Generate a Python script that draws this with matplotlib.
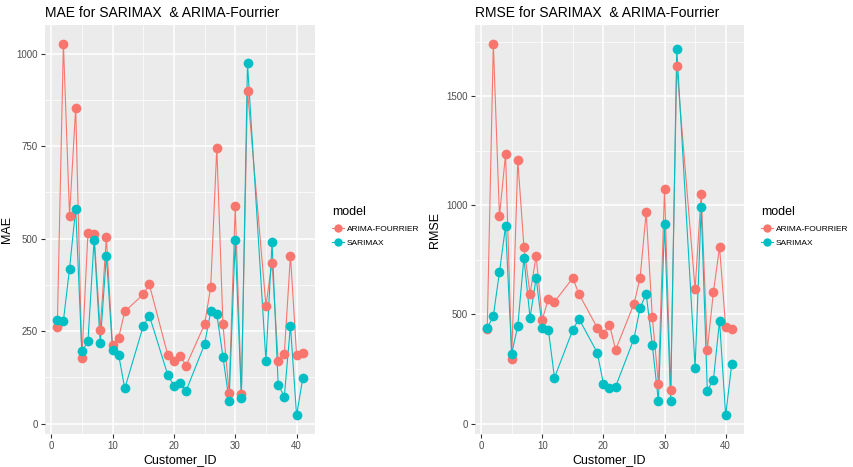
import matplotlib
matplotlib.use('Agg')
import matplotlib.pyplot as plt
from matplotlib.lines import Line2D

plt.rcParams['font.family'] = ['Liberation Sans', 'DejaVu Sans']

# données
customer_id = [1, 2, 3, 4, 5, 6, 7, 8, 9, 10, 11, 12, 15, 16, 19, 20, 21, 22,
               25, 26, 27, 28, 29, 30, 31, 32, 35, 36, 37, 38, 39, 40, 41]

mae_arima = [260, 1027, 562, 854, 176, 516, 511, 254, 503, 213, 232, 303, 349, 376,
             186, 168, 184, 157, 268, 368, 746, 268, 84, 587, 81, 900,
             319, 435, 168, 189, 454, 186, 192]
mae_sarimax = [281, 278, 419, 581, 195, 222, 497, 218, 454, 200, 186, 95, 263, 292,
               132, 103, 109, 89, 214, 303, 295, 181, 62, 495, 70, 973,
               170, 490, 105, 73, 265, 22, 122]

rmse_arima = [434, 1742, 951, 1235, 297, 1207, 810, 594, 768, 476, 571, 558, 667, 594,
              439, 412, 453, 338, 549, 667, 969, 489, 183, 1075, 155, 1637,
              617, 1052, 338, 604, 809, 443, 434]
rmse_sarimax = [436, 494, 694, 905, 320, 448, 759, 485, 667, 439, 430, 210, 430, 480,
                325, 183, 165, 169, 389, 530, 594, 361, 101, 914, 101, 1719,
                256, 992, 151, 201, 471, 37, 274]

models = ['ARIMA-FOURRIER', 'SARIMAX']
couleurs = ['#F8766D', '#00BFC4']

W, H = 854, 467
fig = plt.figure(figsize=(W / 100, H / 100), dpi=100)

def panneau(x0, x1, ylo, yhi, yarima, ysarimax, titre, ylab, yticks, yminor, legx, labx):
    ax = fig.add_axes([x0 / W, 1 - 434 / H, (x1 - x0) / W, (434 - 25) / H])
    ax.set_facecolor('#EBEBEB')
    for s in ax.spines.values():
        s.set_visible(False)
    ax.set_xlim(-1, 43)
    ax.set_ylim(ylo, yhi)
    ax.set_xticks([0, 10, 20, 30, 40])
    ax.set_xticks([5, 15, 25, 35], minor=True)
    ax.set_yticks(yticks)
    ax.set_yticks(yminor, minor=True)
    ax.grid(which='major', color='white', lw=1.1)
    ax.grid(which='minor', color='white', lw=0.5)
    ax.set_axisbelow(True)
    ax.tick_params(which='major', length=3, color='#333333', labelsize=7, labelcolor='#4D4D4D', pad=2)
    ax.tick_params(which='minor', length=0)
    for ys, c in zip([yarima, ysarimax], couleurs):
        ax.plot(customer_id, ys, color=c, lw=0.8, zorder=2)
    for ys, c in zip([yarima, ysarimax], couleurs):
        ax.plot(customer_id, ys, 'o', color=c, ms=7, mec='none', zorder=3)
    ax.set_title(titre, loc='left', fontsize=10, pad=6)
    ax.set_xlabel('Customer_ID', fontsize=9, labelpad=2)
    ax.set_ylabel(ylab, fontsize=9)
    ax.yaxis.set_label_coords((labx - x0) / (x1 - x0), 0.5)
    handles = [Line2D([], [], color=c, lw=0.8, marker='o', ms=6, mec='none') for c in couleurs]
    leg = fig.legend(handles, models, title='model', loc='upper left',
                     bbox_to_anchor=(legx / W, 1 - 203 / H), frameon=False,
                     fontsize=6, title_fontsize=9, handlelength=1.4,
                     handletextpad=0.3, labelspacing=0.8, borderaxespad=0)
    leg._legend_box.align = 'left'
    return ax

panneau(45, 315, -28, 1077, mae_arima, mae_sarimax,
        'MAE for SARIMAX  & ARIMA-Fourrier', 'MAE',
        [0, 250, 500, 750, 1000], [125, 375, 625, 875], 329, 13)
panneau(475, 744, -48, 1827, rmse_arima, rmse_sarimax,
        'RMSE for SARIMAX  & ARIMA-Fourrier', 'RMSE',
        [0, 500, 1000, 1500], [250, 750, 1250, 1750], 758, 441)

fig.savefig('out.png', dpi=100)
